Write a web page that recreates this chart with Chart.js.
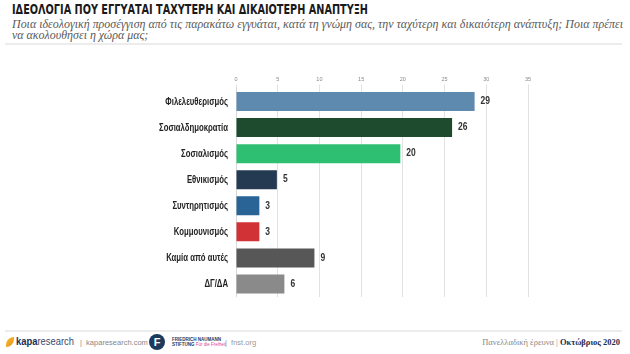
<!DOCTYPE html>
<html><head><meta charset="utf-8">
<script src="https://cdn.jsdelivr.net/npm/chart.js@4/dist/chart.umd.min.js"></script>
<style>
html,body{margin:0;padding:0;background:#fff;width:630px;height:354px;overflow:hidden;position:relative;font-family:"Liberation Sans",Arial,sans-serif;}
.abs{position:absolute;white-space:nowrap;}
#title{left:12px;top:1px;font-family:"Liberation Sans Narrow","DejaVu Sans Condensed","Liberation Sans",sans-serif;font-weight:bold;font-size:14px;color:#1a1a1a;transform-origin:0 0;}
.sub{font-family:"Liberation Serif","DejaVu Serif",serif;font-style:italic;font-size:11.5px;color:#5a5a5a;left:12px;transform-origin:0 0;}
#sep1{left:5px;top:43px;width:617px;height:2px;background:#ececec;}
#sep2{left:5px;top:330px;width:617px;height:2px;background:#ececec;}
#chartbox{position:absolute;left:0;top:70px;width:560px;height:227px;}
.foot{font-size:7.5px;color:#777;}
</style></head><body>
<div id="title" class="abs">ΙΔΕΟΛΟΓΙΑ ΠΟΥ ΕΓΓΥΑΤΑΙ ΤΑΧΥΤΕΡΗ ΚΑΙ ΔΙΚΑΙΟΤΕΡΗ ΑΝΑΠΤΥΞΗ</div>
<div id="sub1" class="abs sub" style="top:18px">Ποια ιδεολογική προσέγγιση από τις παρακάτω εγγυάται, κατά τη γνώμη σας, την ταχύτερη και δικαιότερη ανάπτυξη; Ποια πρέπει</div>
<div id="sub2" class="abs sub" style="top:29px">να ακολουθήσει η χώρα μας;</div>
<div id="sep1" class="abs"></div>
<div id="chartbox"><canvas id="c"></canvas></div>
<div id="sep2" class="abs"></div>

<!-- footer -->
<div class="abs" style="left:6px;top:337px;width:8px;height:10px;background:linear-gradient(135deg,#f7c32e,#e88a1a);border-radius:8px 0 8px 0;"></div>
<div id="kapa" class="abs" style="left:16px;top:335px;font-size:11px;color:#1f2d4d;transform-origin:0 0;"><b>kapa</b><span style="color:#3a4a6c">research</span></div>
<div class="abs foot" style="left:80px;top:338px;color:#888;">|&nbsp; kaparesearch.com</div>
<div class="abs" style="left:149px;top:334px;width:16px;height:16px;border-radius:50%;background:#1c3a5e;color:#fff;font-weight:bold;font-size:11px;text-align:center;line-height:16px;">F</div>
<div class="abs" style="left:172px;top:337px;font-size:4.5px;line-height:5px;color:#1c3a5e;font-weight:bold;">FRIEDRICH NAUMANN<br>STIFTUNG <span style="color:#e0418f;font-weight:normal">Für die Freiheit</span></div>
<div class="abs foot" style="left:225px;top:338px;color:#999;">|&nbsp; fnst.org</div>
<div id="rfoot" class="abs" style="right:10px;top:337px;font-family:'Liberation Serif',serif;font-size:8.5px;color:#888;">Πανελλαδική έρευνα | <b style="color:#1f2d4d">Οκτώβριος 2020</b></div>

<script>
const categories = ["Φιλελευθερισμός","Σοσιαλδημοκρατία","Σοσιαλισμός","Εθνικισμός","Συντηρητισμός","Κομμουνισμός","Καμία από αυτές","ΔΓ/ΔΑ"];
const values = [28.6, 25.9, 19.7, 4.9, 2.8, 2.8, 9.4, 5.8];
const valueLabels = ["29","26","20","5","3","3","9","6"];
const barColors = ["#5e8ab0","#1e4a2e","#2fbf72","#243a53","#2a6496","#d03236","#575757","#8a8a8a"];
const xTicks = [0,5,10,15,20,25,30,35];

function fit(id, w){const e=document.getElementById(id);const r=e.getBoundingClientRect().width;e.style.transform='scaleX('+(w/r)+')';}
fit('title',356); fit('sub1',611); fit('kapa',58);
document.getElementById('sub2').style.transform=document.getElementById('sub1').style.transform;

const LABEL_FONT='bold 11px "Liberation Sans", Arial, sans-serif';
const valuePlugin = {
  id:'vals',
  afterDatasetsDraw(chart){
    const ctx=chart.ctx; const meta=chart.getDatasetMeta(0);
    ctx.save(); ctx.font='bold 10px "Liberation Sans", Arial, sans-serif'; ctx.fillStyle='#333';
    ctx.textBaseline='middle'; ctx.textAlign='left';
    meta.data.forEach((b,i)=>{
      ctx.save(); ctx.translate(b.x+6,b.y); ctx.scale(0.85,1); ctx.fillText(valueLabels[i],0,0); ctx.restore();
    });
    ctx.restore();
    // category labels, condensed like the original
    const ys=chart.scales.y;
    ctx.save(); ctx.font=LABEL_FONT; ctx.fillStyle='#222'; ctx.textBaseline='middle'; ctx.textAlign='right';
    const k=69/ctx.measureText("Σοσιαλδημοκρατία").width;
    categories.forEach((c,i)=>{
      const y=ys.getPixelForValue(i);
      ctx.save(); ctx.translate(ys.right-8,y); ctx.scale(k,1); ctx.fillText(c,0,0); ctx.restore();
    });
    ctx.restore();
  }
};

new Chart(document.getElementById('c'),{
  type:'bar',
  data:{labels:categories,datasets:[{data:values,backgroundColor:barColors,barPercentage:0.73,categoryPercentage:1}]},
  options:{
    indexAxis:'y',responsive:true,maintainAspectRatio:false,animation:false,
    layout:{padding:{left:0,right:32,top:0,bottom:0}},
    plugins:{legend:{display:false},tooltip:{enabled:false}},
    scales:{
      x:{position:'top',min:0,max:35,
        afterBuildTicks(s){s.ticks=xTicks.map(v=>({value:v}));},
        afterFit(s){s.height=18.5;},
        grid:{color:'#e2e2e2',lineWidth:1,drawTicks:true,tickLength:4,tickColor:'#e2e2e2'},
        border:{display:false},
        ticks:{font:{size:5.5,family:'"Liberation Sans", Arial'},color:'#888',padding:2,maxRotation:0}
      },
      y:{
        afterFit(s){s.width=236;},
        grid:{display:false,drawTicks:false},
        border:{display:true,color:'#d8d8d8'},
        ticks:{display:false}
      }
    }
  },
  plugins:[valuePlugin]
});
</script>
</body></html>
